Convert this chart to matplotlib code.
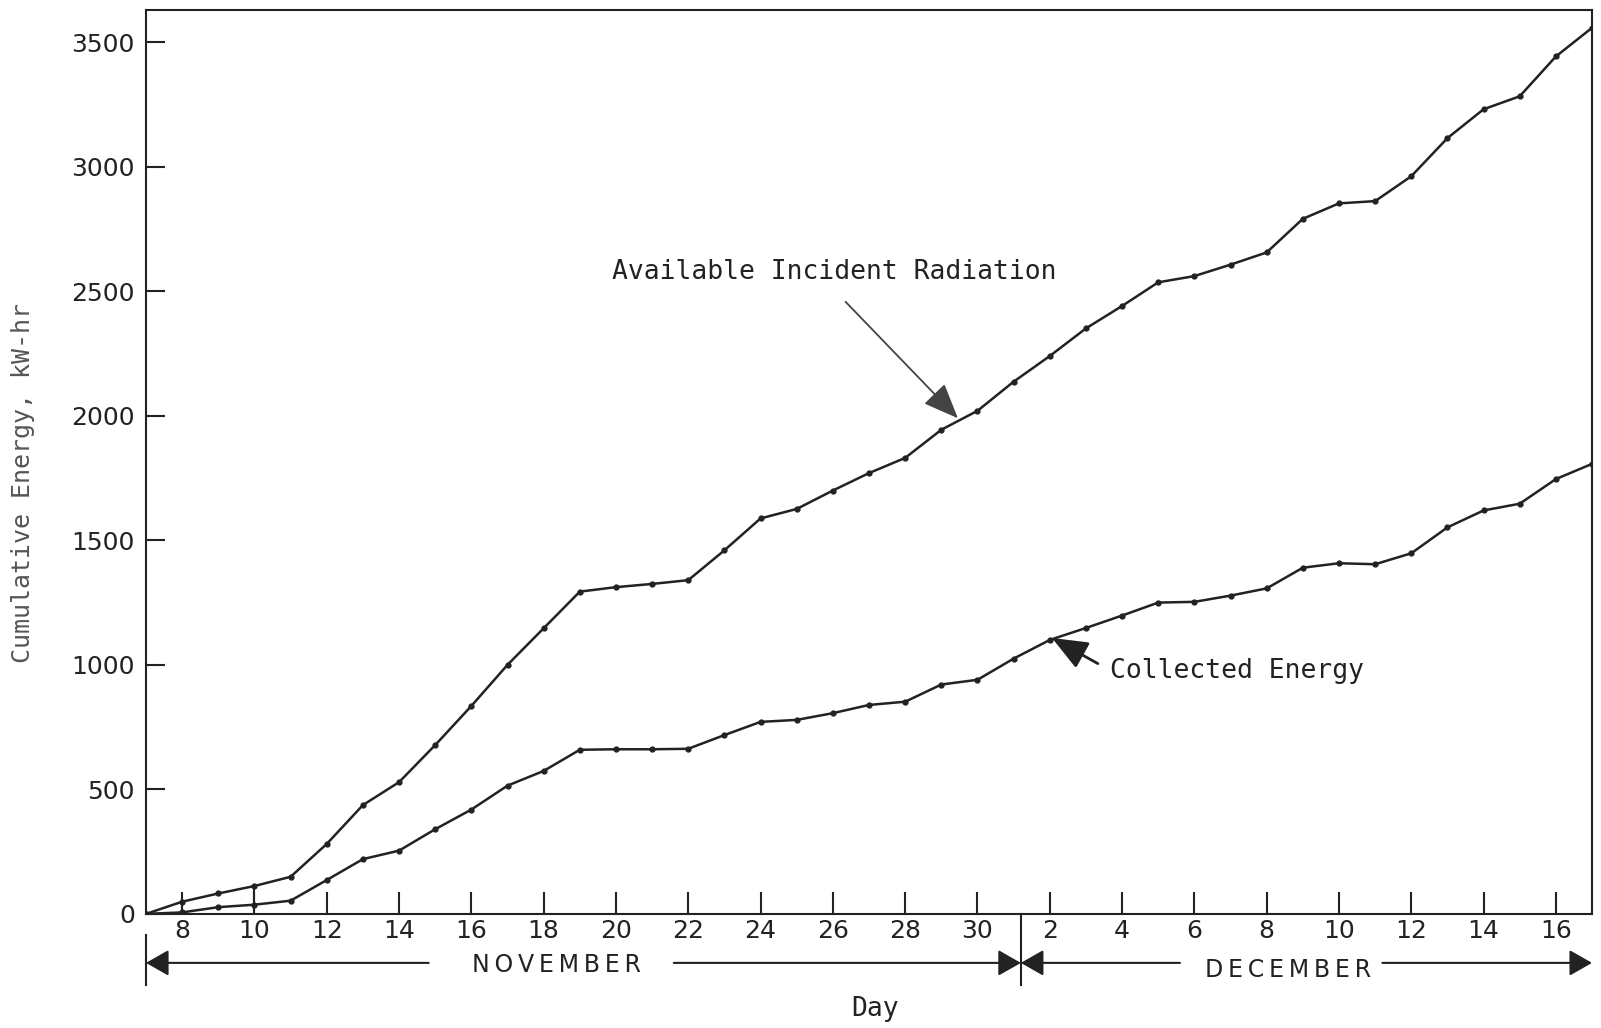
import matplotlib
matplotlib.use("Agg")
import matplotlib.pyplot as plt

# Calendar day of each daily reading: Nov 7 .. Nov 30, then Dec 1 .. Dec 17
day_of_month = list(range(7, 31)) + list(range(1, 18))

# Cumulative energy, kW-hr
available = [0, 49, 82, 112, 149, 281, 437, 529, 678, 835, 1000, 1147,
             1294, 1312, 1325, 1340, 1460, 1588, 1626, 1700, 1770, 1831,
             1944, 2020,
             2137, 2240, 2351, 2441, 2536, 2561, 2607, 2656, 2791, 2853,
             2862, 2962, 3115, 3231, 3283, 3443, 3558]
collected = [0, 6, 27, 37, 53, 136, 220, 254, 340, 419, 515, 574,
             659, 661, 661, 663, 718, 771, 779, 806, 839, 852,
             921, 940,
             1025, 1100, 1148, 1198, 1250, 1253, 1278, 1307, 1390, 1408,
             1404, 1448, 1552, 1620, 1647, 1746, 1807]

y_ticks = [0, 500, 1000, 1500, 2000, 2500, 3000, 3500]

x = list(range(len(day_of_month)))
tick_pos = [i for i, d in zip(x, day_of_month) if d % 2 == 0]
tick_lab = [str(day_of_month[i]) for i in tick_pos]

ink = "#222222"
mono = "DejaVu Sans Mono"

fig = plt.figure(figsize=(16.01, 10.28), dpi=100)
ax = fig.add_axes([0.0912, 0.111, 0.9032, 0.8794])

ax.plot(x, available, color=ink, lw=1.8, marker="o", ms=3.5)
ax.plot(x, collected, color=ink, lw=1.8, marker="o", ms=3.5)
ax.vlines(x[3], 0, available[3], color=ink, lw=1.5)

ax.set_xlim(0, x[-1])
ax.set_ylim(0, 3630)
ax.set_xticks(tick_pos)
ax.set_xticklabels(tick_lab)
ax.set_yticks(y_ticks)
ax.set_yticklabels([str(v) for v in y_ticks])
ax.tick_params(axis="x", direction="in", length=16, width=1.5, pad=4,
               labelsize=18, colors=ink)
ax.tick_params(axis="y", direction="in", length=14, width=1.5, pad=8,
               labelsize=18, colors=ink)
for s in ax.spines.values():
    s.set_linewidth(1.5)
    s.set_color(ink)

ax.text(-0.0854, 0.477, "Cumulative Energy, kW-hr", transform=ax.transAxes,
        rotation=90, ha="center", va="center", family=mono, fontsize=18,
        color="#555555")
ax.text(0.504, -0.105, "Day", transform=ax.transAxes, ha="center",
        va="center", family=mono, fontsize=19, color=ink)

# annotations
ax.annotate("Available Incident Radiation", xy=(22.46, 1990),
            xytext=(19.04, 2577), ha="center", va="center", family=mono,
            fontsize=19, color=ink)
ax.annotate("", xy=(22.46, 1990), xytext=(19.35, 2458),
            arrowprops=dict(arrowstyle="-|>,head_length=1.1,head_width=0.45",
                            color="#444444", lw=1.3, mutation_scale=20,
                            shrinkA=0, shrinkB=0))
ax.text(26.67, 976, "Collected Energy", ha="left", va="center", family=mono,
        fontsize=19, color=ink)
ax.annotate("", xy=(25.06, 1108), xytext=(26.33, 1005),
            arrowprops=dict(arrowstyle="-|>,head_length=1.1,head_width=0.45",
                            color=ink, lw=2, mutation_scale=20,
                            shrinkA=0, shrinkB=0))

# month band under the axis
trans = ax.get_xaxis_transform()
band_y = -0.0542
split = 24.2
head = dict(arrowstyle="-|>,head_length=0.7,head_width=0.4", color=ink,
            lw=1.5, mutation_scale=20, shrinkA=0, shrinkB=0)
for tip, tail in [(0, 7.82), (split, 14.6), (split, 28.6), (x[-1], 34.2)]:
    ax.annotate("", xy=(tip, band_y), xytext=(tail, band_y),
                xycoords=trans, textcoords=trans, arrowprops=head,
                annotation_clip=False)
ax.plot([0, 0], [-0.0232, -0.0785], transform=trans, color=ink, lw=1.5,
        clip_on=False)
ax.plot([split, split], [0, -0.0785], transform=trans, color=ink, lw=1.5,
        clip_on=False)
thin = "\u2009"
ax.text(11.36, -0.0564, thin.join("NOVEMBER"), transform=trans, ha="center",
        va="center", fontsize=17, color=ink)
ax.text(31.6, -0.062, thin.join("DECEMBER"), transform=trans, ha="center",
        va="center", fontsize=17, color=ink)

fig.savefig("out.png", dpi=100)
